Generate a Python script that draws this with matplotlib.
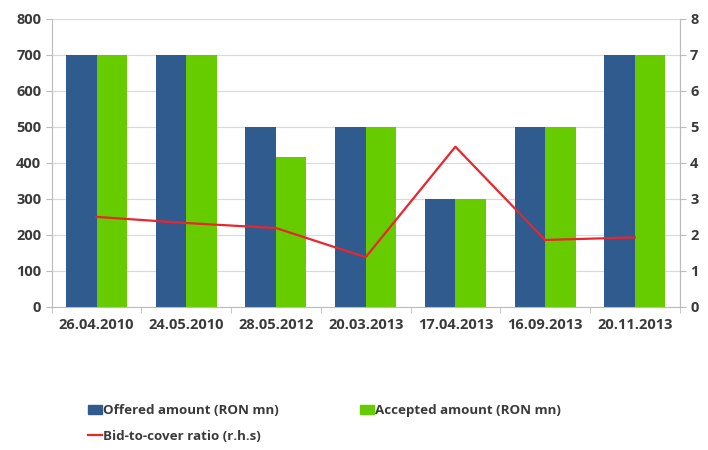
import numpy as np
import matplotlib.pyplot as plt
from matplotlib.lines import Line2D
from matplotlib.patches import Patch

dates = ["26.04.2010", "24.05.2010", "28.05.2012", "20.03.2013",
         "17.04.2013", "16.09.2013", "20.11.2013"]
offered = [700, 700, 500, 500, 300, 500, 700]
accepted = [700, 700, 415, 500, 300, 500, 700]
bid_to_cover = [2.5, 2.33, 2.19, 1.38, 4.45, 1.86, 1.93]

blue = "#2F5B8F"
green = "#66CC00"
red = "#E8262E"
txt = "#3A3A3A"
plt.rcParams["font.family"] = ["Open Sans", "DejaVu Sans"]

fig = plt.figure(figsize=(7.08, 4.5), dpi=100)
ax = fig.add_axes([0.073, 0.318, 0.887, 0.640])
x = np.arange(len(dates))
w = 0.34
ax.bar(x - w / 2, offered, w, color=blue, zorder=2)
ax.bar(x + w / 2, accepted, w, color=green, zorder=2)
ax.set_xlim(-0.5, len(dates) - 0.5)
ax.set_ylim(0, 800)
ax.set_yticks(range(0, 801, 100))
ax.set_xticks(x)
ax.set_xticklabels(dates)
ax.set_xticks(np.arange(-0.5, len(dates)), minor=True)
ax.tick_params(axis="x", which="major", length=0, pad=8)
ax.tick_params(axis="x", which="minor", length=4, color="#BBBBBB")
ax.tick_params(axis="y", length=4, color="#BBBBBB")
ax.grid(axis="y", color="#D9D9D9", linewidth=0.8, zorder=0)
for lab in ax.get_xticklabels() + ax.get_yticklabels():
    lab.set_fontsize(10.5)
    lab.set_fontweight("bold")
    lab.set_color(txt)
ax.spines["top"].set_visible(False)
for s in ["left", "bottom", "right"]:
    ax.spines[s].set_color("#BBBBBB")

# bid-to-cover ratio on the right-hand scale
ax2 = ax.twinx()
ax2.plot(x, bid_to_cover, color=red, linewidth=1.6, zorder=3)
ax2.set_ylim(0, 8)
ax2.set_yticks(range(0, 9))
ax2.tick_params(axis="y", length=4, color="#BBBBBB")
for lab in ax2.get_yticklabels():
    lab.set_fontsize(10.5)
    lab.set_fontweight("bold")
    lab.set_color(txt)
for s in ["top", "bottom", "left"]:
    ax2.spines[s].set_visible(False)
ax2.spines["right"].set_color("#BBBBBB")

handles = [Patch(color=blue), Line2D([], [], color=red, linewidth=1.6),
           Patch(color=green)]
labels = ["Offered amount (RON mn)", "Bid-to-cover ratio (r.h.s)",
          "Accepted amount (RON mn)"]
leg = fig.legend(handles, labels, ncol=2, loc="upper left",
                 bbox_to_anchor=(0.108, 0.128), frameon=False,
                 handlelength=1.0, handletextpad=0.1, columnspacing=6.1,
                 labelspacing=0.95, prop={"size": 9.6, "weight": "bold"})
for t in leg.get_texts():
    t.set_color(txt)

fig.savefig("out.png", dpi=100)
